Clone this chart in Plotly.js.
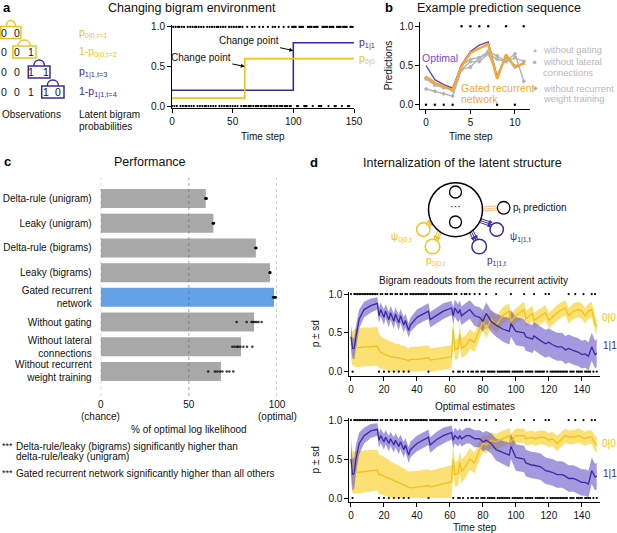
<!DOCTYPE html>
<html><head><meta charset="utf-8">
<script src="https://cdn.plot.ly/plotly-3.0.1.min.js"></script>
<style>html,body{margin:0;padding:0;background:#fff}#chart{width:617px;height:533px}</style>
</head><body><div id="chart"></div>
<script>
// ---------------- DATA ----------------
// panel a
const aT00 = [0, 60, 150];
const aP00 = [0.1, 0.6, 0.6];
const aT11 = [0, 100, 150];
const aP11 = [0.2, 0.8, 0.8];
const obsA = [
0,1,0,1,0,1,1,0,1,0,
1,0,0,1,0,1,0,1,0,1,
1,0,1,0,1,0,1,0,0,1,
0,1,0,1,0,1,0,1,1,0,
1,0,1,0,1,0,0,1,0,1,
0,1,0,1,0,1,1,0,1,0,
0,0,1,0,0,0,1,0,1,0,
0,0,1,0,0,1,0,0,0,1,
0,0,0,1,0,1,0,0,1,0,
0,0,1,0,0,0,1,0,0,1,
1,1,1,0,0,1,1,1,1,0,
0,0,1,1,1,1,0,1,1,1,
1,0,0,0,1,1,1,1,1,0,
1,1,1,1,0,0,1,1,1,1,
0,1,1,1,1,0,0,1,1,1];
const diagramSeq = [0,0,1,1,0];

// panel b
const bT = [0,1,2,3,4,5,6,7,8,9,10,11];
const bObs = [0,0,0,0,1,1,1,1,0,1,0,1];
const bOptimal    = [0.50,0.32,0.255,0.21,0.51,0.68,0.76,0.80,0.35,0.63,0.47,0.53];
const bGated      = [0.36,0.28,0.23,0.19,0.49,0.66,0.72,0.77,0.33,0.64,0.48,0.53];
const bNoGating   = [0.35,0.27,0.22,0.20,0.50,0.58,0.60,0.65,0.38,0.60,0.50,0.52];
const bNoLateral  = [0.33,0.25,0.22,0.18,0.45,0.48,0.60,0.68,0.62,0.55,0.60,0.55];
const bNoRecurrent= [0.20,0.17,0.14,0.11,0.45,0.55,0.55,0.65,0.58,0.55,0.65,0.30];

// panel c
const cModels = ['Delta-rule (unigram)','Leaky (unigram)','Delta-rule (bigrams)','Leaky (bigrams)',
  'Gated recurrent<br>network','Without gating','Without lateral<br>connections','Without recurrent<br>weight training'];
const cMeans = [59.6, 63.9, 88.0, 96.0, 98.3, 87.0, 79.6, 68.2];
const cRunScores = [
  [59.3,59.6,59.9,60.1,59.8],
  [63.6,63.9,64.2,64.0,63.8],
  [87.7,88.0,88.3,88.1],
  [95.8,96.0,96.2,96.1],
  [97.8,98.2,98.6,99.0,99.3],
  [77.1,82.8,85.6,86.5,87.5,88.5,89.5,91.3],
  [74.7,76.0,77.3,78.0,79.2,80.9,83.0,86.0],
  [61.0,64.8,66.2,67.7,69.0,71.5,73.0,75.2]];
const cTickVals = [0, 50, 100];
const cTickText = ['0', '50', '100'];
const cTickNotes = ['(chance)', '', '(optimal)'];

// panel d
const dT = [0,1,2,3,5,8,12,16,17,18,
  20,21,23,24,26,27,29,30,32,33,
  35,36,40,44,47,48,52,56,61,62,
  63,65,66,67,70,72,75,78,80,82,
  85,88,92,96,97,100,105,106,110,111,
  115,118,120,122,125,128,130,132,135,138,
  140,142,144,146,148,149];
const dNet11 = [0.45,0.30,0.30,0.45,0.68,0.80,0.85,0.88,0.72,0.80,
  0.70,0.78,0.67,0.76,0.65,0.74,0.63,0.72,0.60,0.66,
  0.53,0.60,0.70,0.75,0.78,0.67,0.73,0.78,0.82,0.72,
  0.82,0.75,0.80,0.72,0.77,0.80,0.72,0.70,0.65,0.75,
  0.65,0.60,0.55,0.52,0.62,0.52,0.50,0.45,0.42,0.46,
  0.40,0.36,0.38,0.35,0.32,0.32,0.28,0.30,0.27,0.25,
  0.22,0.23,0.20,0.32,0.22,0.24];
const dNet11Sd = [0.15,0.13,0.14,0.14,0.12,0.10,0.09,0.08,0.10,0.09,
  0.10,0.09,0.10,0.09,0.10,0.09,0.10,0.09,0.10,0.09,
  0.09,0.09,0.10,0.10,0.10,0.10,0.10,0.10,0.09,0.11,
  0.11,0.12,0.12,0.12,0.12,0.12,0.13,0.13,0.14,0.14,
  0.14,0.15,0.16,0.17,0.17,0.18,0.18,0.18,0.18,0.18,
  0.18,0.18,0.18,0.18,0.18,0.18,0.18,0.18,0.18,0.18,
  0.18,0.18,0.18,0.18,0.18,0.18];
const dNet00 = [0.35,0.30,0.31,0.31,0.31,0.32,0.32,0.33,0.27,0.25,
  0.23,0.22,0.21,0.19,0.19,0.18,0.18,0.17,0.16,0.16,
  0.14,0.16,0.16,0.17,0.18,0.15,0.16,0.17,0.19,0.55,
  0.28,0.30,0.48,0.30,0.35,0.42,0.38,0.55,0.65,0.55,
  0.68,0.60,0.72,0.78,0.65,0.72,0.80,0.68,0.75,0.66,
  0.72,0.76,0.66,0.70,0.76,0.80,0.82,0.72,0.78,0.80,
  0.78,0.72,0.78,0.80,0.62,0.58];
const dNet00Sd = [0.18,0.22,0.24,0.25,0.25,0.25,0.25,0.25,0.22,0.21,
  0.20,0.20,0.19,0.19,0.18,0.18,0.18,0.17,0.17,0.17,
  0.16,0.16,0.16,0.16,0.16,0.15,0.15,0.15,0.15,0.14,
  0.13,0.13,0.13,0.13,0.13,0.13,0.12,0.12,0.12,0.12,
  0.11,0.11,0.11,0.10,0.10,0.10,0.10,0.10,0.10,0.10,
  0.10,0.10,0.10,0.10,0.10,0.10,0.10,0.10,0.10,0.10,
  0.10,0.10,0.10,0.10,0.10,0.10];
const dOpt11 = [0.50,0.30,0.32,0.50,0.70,0.80,0.86,0.88,0.74,0.80,
  0.72,0.78,0.70,0.76,0.68,0.74,0.66,0.72,0.62,0.68,
  0.55,0.62,0.70,0.75,0.78,0.68,0.75,0.80,0.84,0.74,
  0.80,0.76,0.80,0.76,0.80,0.80,0.76,0.76,0.72,0.74,
  0.70,0.62,0.58,0.55,0.66,0.52,0.50,0.45,0.42,0.42,
  0.40,0.35,0.34,0.33,0.30,0.30,0.28,0.25,0.25,0.22,
  0.20,0.20,0.18,0.35,0.27,0.28];
const dOpt11Sd = [0.20,0.20,0.20,0.18,0.14,0.10,0.09,0.08,0.10,0.09,
  0.10,0.09,0.10,0.09,0.10,0.09,0.10,0.09,0.10,0.09,
  0.10,0.10,0.10,0.10,0.10,0.10,0.10,0.10,0.09,0.10,
  0.10,0.10,0.10,0.10,0.10,0.10,0.11,0.11,0.12,0.12,
  0.13,0.14,0.15,0.16,0.16,0.17,0.17,0.17,0.17,0.17,
  0.17,0.17,0.17,0.17,0.17,0.17,0.17,0.17,0.17,0.17,
  0.17,0.17,0.17,0.17,0.17,0.17];
const dOpt00 = [0.50,0.33,0.33,0.33,0.33,0.34,0.35,0.36,0.30,0.30,
  0.28,0.27,0.25,0.24,0.22,0.21,0.20,0.19,0.17,0.16,
  0.13,0.13,0.14,0.15,0.16,0.14,0.16,0.18,0.21,0.50,
  0.30,0.32,0.46,0.34,0.42,0.50,0.45,0.62,0.70,0.68,
  0.74,0.72,0.76,0.80,0.72,0.80,0.80,0.76,0.78,0.76,
  0.78,0.77,0.74,0.76,0.70,0.76,0.80,0.78,0.78,0.80,
  0.78,0.76,0.78,0.78,0.70,0.68];
const dOpt00Sd = [0.30,0.27,0.27,0.27,0.27,0.27,0.27,0.26,0.26,0.25,
  0.25,0.24,0.24,0.23,0.23,0.23,0.22,0.22,0.22,0.21,
  0.21,0.21,0.21,0.21,0.21,0.21,0.21,0.21,0.21,0.18,
  0.16,0.16,0.15,0.15,0.14,0.14,0.13,0.12,0.11,0.11,
  0.10,0.10,0.10,0.10,0.10,0.09,0.09,0.09,0.09,0.09,
  0.09,0.09,0.09,0.09,0.10,0.09,0.09,0.09,0.09,0.09,
  0.09,0.09,0.09,0.09,0.10,0.10];
const obsD = [
1,0,1,1,1,1,1,1,1,1,
1,1,1,1,1,1,1,0,1,1,
0,1,1,0,1,1,0,1,1,0,
1,1,0,1,1,0,1,1,1,1,
1,1,1,1,1,1,1,0,1,1,
1,1,1,1,1,1,1,1,1,1,
1,1,0,1,1,0,0,1,0,1,
1,0,1,0,0,1,0,0,1,0,
0,0,1,0,0,0,0,0,1,0,
0,0,0,0,0,0,0,1,0,0,
0,0,0,0,0,1,0,0,0,0,
0,1,0,0,0,0,0,0,1,0,
1,0,0,0,0,0,0,0,0,0,
0,0,1,0,0,0,1,0,0,0,
0,1,0,0,0,0,1,0,1,0];

// ---------------- STYLE / HELPERS ----------------
const W = 617, H = 533;
const X = px => px / W;
const Y = py => 1 - py / H;
const FONT = 'Liberation Sans, Arial, Helvetica, sans-serif';
const YEL = '#f2c21b', PUR = '#3b2a9f';
const YEL_BAND = 'rgba(250,214,70,0.75)', PUR_BAND = 'rgba(104,84,200,0.6)';
const GREY = '#b3b3b3';

const traces = [];
function obsDots(obs, xa, ya, size) {
  const t = obs.map((v, i) => i);
  traces.push({type:'scatter', mode:'markers', xaxis:xa, yaxis:ya,
    x:t.filter((i) => obs[i] === 1), y:t.filter(i => obs[i] === 1).map(() => 1),
    marker:{color:'#000', size:size}, cliponaxis:false, hoverinfo:'skip'});
  traces.push({type:'scatter', mode:'markers', xaxis:xa, yaxis:ya,
    x:t.filter((i) => obs[i] === 0), y:t.filter(i => obs[i] === 0).map(() => 0),
    marker:{color:'#000', size:size}, cliponaxis:false, hoverinfo:'skip'});
}
function band(xa, ya, t, m, sd, color) {
  traces.push({type:'scatter', mode:'lines', xaxis:xa, yaxis:ya, x:t,
    y:m.map((v, i) => Math.max(0, v - sd[i])), line:{width:0, color:color}, hoverinfo:'skip'});
  traces.push({type:'scatter', mode:'lines', xaxis:xa, yaxis:ya, x:t,
    y:m.map((v, i) => Math.min(1, v + sd[i])), line:{width:0, color:color},
    fill:'tonexty', fillcolor:color, hoverinfo:'skip'});
}
function line(xa, ya, t, m, color, w) {
  traces.push({type:'scatter', mode:'lines', xaxis:xa, yaxis:ya, x:t, y:m,
    line:{color:color, width:w}});
}

// ---- panel a ----
obsDots(obsA, 'x', 'y', 2.2);
traces.push({type:'scatter', mode:'lines', x:aT11, y:aP11, line:{color:PUR, width:1.6, shape:'hv'}});
traces.push({type:'scatter', mode:'lines', x:aT00, y:aP00, line:{color:YEL, width:1.6, shape:'hv'}});

// ---- panel b ----
obsDots(bObs, 'x2', 'y2', 2.4);
[[bNoRecurrent,'diamond'],[bNoLateral,'square'],[bNoGating,'triangle-up']].forEach(([v, s]) => {
  traces.push({type:'scatter', mode:'lines+markers', xaxis:'x2', yaxis:'y2', x:bT, y:v,
    line:{color:GREY, width:1.4}, marker:{symbol:s, size:3.5, color:GREY}});
});
traces.push({type:'scatter', mode:'lines', xaxis:'x2', yaxis:'y2', x:bT, y:bOptimal,
  line:{color:'#6d43b8', width:1.4}});
traces.push({type:'scatter', mode:'lines', xaxis:'x2', yaxis:'y2', x:bT, y:bGated,
  line:{color:'#f5a833', width:2.4}});

// ---- panel c ----
traces.push({type:'bar', orientation:'h', xaxis:'x3', yaxis:'y3', x:cMeans, y:cModels,
  width:0.77, marker:{color:cModels.map(m => m.startsWith('Gated') ? '#64a1e6' : '#a8a8a8')}});
traces.push({type:'scatter', mode:'markers', xaxis:'x3', yaxis:'y3',
  x:[].concat(...cRunScores), y:[].concat(...cRunScores.map((r, i) => r.map(() => cModels[i]))),
  marker:{color:'rgba(0,0,0,0.75)', size:2.6}, cliponaxis:false});

// ---- panel d ----
band('x4', 'y4', dT, dNet00, dNet00Sd, YEL_BAND);
band('x4', 'y4', dT, dNet11, dNet11Sd, PUR_BAND);
line('x4', 'y4', dT, dNet00, YEL, 1.3);
line('x4', 'y4', dT, dNet11, PUR, 1.3);
obsDots(obsD, 'x4', 'y4', 2.2);
band('x5', 'y5', dT, dOpt00, dOpt00Sd, YEL_BAND);
band('x5', 'y5', dT, dOpt11, dOpt11Sd, PUR_BAND);
line('x5', 'y5', dT, dOpt00, YEL, 1.3);
line('x5', 'y5', dT, dOpt11, PUR, 1.3);
obsDots(obsD, 'x5', 'y5', 2.2);

// ---------------- LAYOUT ----------------
const ax = {showline:true, linecolor:'#000', linewidth:1, ticks:'outside', ticklen:4, tickwidth:1,
  tickcolor:'#000', showgrid:false, zeroline:false, tickfont:{size:10, color:'#111', family:FONT}};
const ptick = {tickvals:[0, 0.5, 1], ticktext:['0.0', '0.5', '1.0']};
const ttl = (t, s) => ({text:t, font:{size:10, family:FONT, color:'#111'}, standoff:s});

const layout = {
  width:W, height:H, margin:{l:0, r:0, t:0, b:0}, showlegend:false,
  paper_bgcolor:'#fff', plot_bgcolor:'rgba(0,0,0,0)', font:{family:FONT, size:10, color:'#111'},
  xaxis:  Object.assign({}, ax, {domain:[X(172), X(354)], range:[0, 150], tickvals:[0, 50, 100, 150],
            anchor:'y'}),
  yaxis:  Object.assign({}, ax, ptick, {domain:[Y(108.4), Y(24.6)], range:[-0.03, 1.03], anchor:'x'}),
  xaxis2: Object.assign({}, ax, {domain:[X(420.3), X(530)], range:[-0.64, 11.7], tickvals:[0, 5, 10],
            anchor:'y2'}),
  yaxis2: Object.assign({}, ax, ptick, {domain:[Y(109.4), Y(21.6)], range:[-0.06, 1.06], anchor:'x2',
            title:ttl('Predictions', 4)}),
  xaxis3: {domain:[X(100.7), X(277)], range:[0, 100], anchor:'free', position:Y(397),
            showline:false, zeroline:false, showgrid:false, ticks:'', tickvals:cTickVals, ticktext:cTickText,
            tickfont:{size:10, color:'#111'}},
  yaxis3: {domain:[Y(384.4), Y(185.6)], type:'category', categoryarray:cModels, autorange:'reversed',
            anchor:'x3', showline:false, zeroline:false, showgrid:false, ticks:'outside', ticklen:6,
            tickcolor:'rgba(0,0,0,0)', tickfont:{size:10, color:'#111'}},
  xaxis4: Object.assign({}, ax, {domain:[X(349.3), X(600)], range:[-1, 151], dtick:20, tick0:0, anchor:'y4'}),
  yaxis4: Object.assign({}, ax, ptick, {domain:[Y(375.6), Y(291.7)], range:[-0.05, 1.03], anchor:'x4',
            title:ttl('p ± sd', 6)}),
  xaxis5: Object.assign({}, ax, {domain:[X(349.3), X(600)], range:[-1, 151], dtick:20, tick0:0, anchor:'y5',
            title:ttl('Time step', 4)}),
  yaxis5: Object.assign({}, ax, ptick, {domain:[Y(501.9), Y(417.7)], range:[-0.05, 1.03], anchor:'x5',
            title:ttl('p ± sd', 6)}),
  shapes:[], annotations:[]
};
const S = layout.shapes, A = layout.annotations;
function txt(px, py, t, o) {
  A.push(Object.assign({xref:'paper', yref:'paper', x:X(px), y:Y(py), text:t, showarrow:false,
    xanchor:'left', yanchor:'middle', font:{size:10, color:'#111', family:FONT}}, o || {}));
}

// panel titles / letters
txt(1, 8, '<b>a</b>', {font:{size:13, color:'#000'}});
txt(192, 8, 'Changing bigram environment', {xanchor:'center', font:{size:12.5, color:'#111'}});
txt(383, 8, '<b>b</b>', {font:{size:13, color:'#000'}});
txt(499, 8, 'Example prediction sequence', {xanchor:'center', font:{size:12.5, color:'#111'}});
txt(2, 161, '<b>c</b>', {font:{size:13, color:'#000'}});
txt(150, 162, 'Performance', {xanchor:'center', font:{size:12.5, color:'#111'}});
txt(308, 162, '<b>d</b>', {font:{size:13, color:'#000'}});
txt(463, 162.5, 'Internalization of the latent structure', {xanchor:'center', font:{size:12.5, color:'#111'}});
txt(473, 280, 'Bigram readouts from the recurrent activity', {xanchor:'center'});
txt(475, 406.5, 'Optimal estimates', {xanchor:'center'});
// axis titles for a, b, c
txt(263, 136, 'Time step', {xanchor:'center'});
txt(471, 136, 'Time step', {xanchor:'center'});
txt(189, 429, '% of optimal log likelihood', {xanchor:'center'});

// panel a diagram
const rowsY = [32.5, 52, 72, 92];
const digitX = [4, 17, 31, 45.5, 58];
const boxX = [[0.8, 21], [12.7, 36], [28.3, 50], [41.7, 64]];
rowsY.forEach((ry, r) => {
  const col = r < 2 ? YEL : PUR;
  for (let i = 0; i <= r + 1; i++) txt(digitX[i], ry, String(diagramSeq[i]), {xanchor:'center', font:{size:10.5, color:'#111'}});
  S.push({type:'rect', xref:'paper', yref:'paper', x0:X(boxX[r][0]), x1:X(boxX[r][1]), y0:Y(ry + 6), y1:Y(ry - 6),
    line:{color:col, width:1.5}});
  const x1 = boxX[r][0] + 5.5, x2 = boxX[r][1] - 5.5, yb = ry - 6, yt = ry - 14;
  S.push({type:'path', xref:'paper', yref:'paper',
    path:`M ${X(x1)},${Y(yb)} C ${X(x1)},${Y(yt)} ${X(x2)},${Y(yt)} ${X(x2)},${Y(yb)}`,
    line:{color:col, width:1.5}});
});
txt(77, 33, 'p<sub>0|0,t=1</sub>', {font:{size:10.5, color:YEL}});
txt(77, 52, '1-p<sub>0|0,t=2</sub>', {font:{size:10.5, color:YEL}});
txt(77, 72, 'p<sub>1|1,t=3</sub>', {font:{size:10.5, color:PUR}});
txt(77, 92, '1-p<sub>1|1,t=4</sub>', {font:{size:10.5, color:PUR}});
txt(0, 115, 'Observations');
txt(77, 115, 'Latent bigram');
txt(77, 126, 'probabilities');
// panel a plot annotations
A.push({xref:'x', yref:'y', x:150, y:aP11[2], text:'p<sub>1|1</sub>', showarrow:false, xanchor:'left', xshift:3,
  font:{size:10.5, color:PUR}});
A.push({xref:'x', yref:'y', x:150, y:aP00[2], text:'p<sub>0|0</sub>', showarrow:false, xanchor:'left', xshift:3,
  font:{size:10.5, color:YEL}});
A.push({xref:'x', yref:'y', x:60, y:0.5, text:'Change point', showarrow:true, arrowhead:2, arrowsize:0.8,
  arrowwidth:1, arrowcolor:'#000', ax:-44, ay:-9, font:{size:10, color:'#111'}});
A.push({xref:'x', yref:'y', x:100, y:0.7, text:'Change point', showarrow:true, arrowhead:2, arrowsize:0.8,
  arrowwidth:1, arrowcolor:'#000', ax:-44, ay:-10, font:{size:10, color:'#111'}});

// panel b labels
txt(440, 58, 'Optimal', {xanchor:'center', font:{size:10.5, color:'#7a4cc4'}});
txt(459, 88, 'Gated recurrent', {font:{size:10.5, color:'#f5a833'}});
txt(459, 98.5, 'network', {font:{size:10.5, color:'#f5a833'}});
const LG = {size:9.4, color:'#b8b8b8'};
txt(535, 50, '▲', {xanchor:'center', font:{size:6, color:GREY}});
txt(541, 50, 'without gating', {font:LG});
txt(535, 62, '■', {xanchor:'center', font:{size:6, color:GREY}});
txt(541, 62, 'without lateral', {font:LG});
txt(541, 73, 'connections', {font:LG});
txt(535, 88, '◆', {xanchor:'center', font:{size:6, color:GREY}});
txt(541, 88, 'without recurrent', {font:LG});
txt(541, 98.5, 'weight training', {font:LG});

// panel c gridlines and notes
cTickVals.forEach((v, i) => {
  S.push({type:'line', xref:'x3', yref:'paper', x0:v, x1:v, y0:Y(396), y1:Y(178),
    line:{color:'rgba(90,90,90,0.55)', width:1, dash:'dot'}, layer:'above'});
  if (cTickNotes[i]) A.push({xref:'x3', yref:'paper', x:v, y:Y(416), text:cTickNotes[i], showarrow:false,
    xanchor:'center', yanchor:'middle', font:{size:10, color:'#111', family:FONT}});
});
txt(0, 446, '***', {font:{size:9, color:'#111'}});
txt(14, 446.5, 'Delta-rule/leaky (bigrams) significantly higher than');
txt(14, 456, 'delta-rule/leaky (unigram)');
txt(0, 472.5, '***', {font:{size:9, color:'#111'}});
txt(14, 473, 'Gated recurrent network significantly higher than all others');

// panel d network diagram
const circ = (cx, cy, r, col, w) => S.push({type:'circle', xref:'paper', yref:'paper',
  x0:X(cx - r), x1:X(cx + r), y0:Y(cy + r), y1:Y(cy - r), line:{color:col, width:w}, fillcolor:'#fff'});
function triple(sx, sy, ex, ey, col, arrow) {
  const dx = ex - sx, dy = ey - sy, L = Math.hypot(dx, dy), ux = dx / L, uy = dy / L, nx = -uy, ny = ux;
  [-2, 0, 2].forEach(o => {
    const x0 = sx + nx * o, y0 = sy + ny * o, x1 = ex + nx * o, y1 = ey + ny * o;
    S.push({type:'line', xref:'paper', yref:'paper', x0:X(x0), y0:Y(y0), x1:X(x1), y1:Y(y1),
      line:{color:col, width:1}});
    if (arrow) {
      const bx = x1 - ux * 3, by = y1 - uy * 3;
      S.push({type:'path', xref:'paper', yref:'paper', fillcolor:col, line:{color:col, width:0.5},
        path:`M ${X(x1)},${Y(y1)} L ${X(bx + nx * 1.4)},${Y(by + ny * 1.4)} L ${X(bx - nx * 1.4)},${Y(by - ny * 1.4)} Z`});
    }
  });
}
triple(482, 209, 497, 208, '#f7c08a', false);
triple(435, 219, 428.5, 224.5, YEL, true);
triple(442, 227, 436, 239.5, YEL, true);
triple(469, 227, 475.5, 239.5, PUR, true);
triple(476, 219, 491.5, 224.5, PUR, true);
circ(455.5, 209.7, 27, '#000', 1.5);
circ(455.5, 192, 6, '#000', 1.3);
circ(455.5, 222, 6, '#000', 1.3);
circ(503.7, 207.8, 6.3, '#000', 1.3);
circ(423.3, 229.5, 6.7, YEL, 1.5);
circ(432.5, 246.5, 7.3, YEL, 1.5);
circ(496.7, 229.5, 6.7, PUR, 1.5);
circ(479.2, 246.5, 7.3, PUR, 1.5);
txt(455.5, 206, '···', {xanchor:'center', font:{size:11, color:'#000'}});
txt(511, 207.5, 'p<sub>t</sub> prediction');
txt(414, 238, 'ψ<sub>0|0,t</sub>', {xanchor:'right', font:{size:10, color:YEL}});
txt(424, 261, 'p<sub>0|0,t</sub>', {font:{size:10, color:YEL}});
txt(508, 238, 'ψ<sub>1|1,t</sub>', {font:{size:10, color:PUR}});
txt(485, 261, 'p<sub>1|1,t</sub>', {font:{size:10, color:PUR}});
// panel d right labels
txt(600, 317, '0|0', {font:{size:10, color:YEL}});
txt(601, 345, '1|1', {font:{size:10, color:PUR}});
txt(600, 443, '0|0', {font:{size:10, color:YEL}});
txt(601, 473, '1|1', {font:{size:10, color:PUR}});

Plotly.newPlot('chart', traces, layout, {staticPlot:true, displayModeBar:false});
</script></body></html>
